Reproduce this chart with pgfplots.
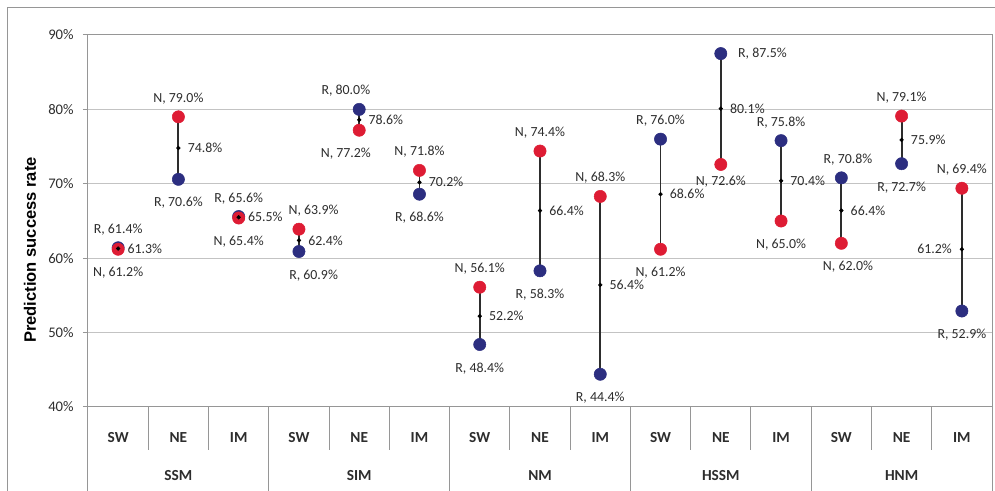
\documentclass[border=0pt]{standalone}
\usepackage{fontspec}
\setmainfont{Carlito}
\newfontfamily\arialf{Liberation Sans}
\usepackage{pgfplots}
\pgfplotsset{compat=1.18}

\definecolor{nred}{RGB}{222,28,52}
\definecolor{rblue}{RGB}{44,46,128}
\definecolor{gridc}{RGB}{195,195,195}
\definecolor{framec}{RGB}{150,150,150}
\definecolor{linec}{RGB}{45,45,45}
\definecolor{txt}{RGB}{45,45,45}

\newcommand{\lbl}{\fontsize{10.4}{12}\selectfont}
\newcommand{\catfont}{\fontsize{11.5}{13}\selectfont\bfseries}

\pgfplotsset{
  dot/.style n args={2}{only marks, mark=*, mark size=4.6pt, color=#1, point meta=y,
    nodes near coords={#2, \pgfmathprintnumber[fixed,fixed zerofill,precision=1]{\pgfplotspointmeta}\%},
    every node near coord/.append style={text=txt, font=\lbl}},
  mean/.style={only marks, mark=*, mark size=1.4pt, color=black, point meta=y,
    nodes near coords={\pgfmathprintnumber[fixed,fixed zerofill,precision=1]{\pgfplotspointmeta}\%},
    every node near coord/.append style={text=txt, font=\lbl}},
  above lbl/.style={every node near coord/.append style={anchor=south, yshift=6pt, xshift=#1}},
  above lbl/.default=0pt,
  below lbl/.style={every node near coord/.append style={anchor=north, yshift=-10pt, xshift=#1}},
  below lbl/.default=0pt,
  close below lbl/.style={every node near coord/.append style={anchor=north, yshift=-5pt}},
  right lbl/.style={every node near coord/.append style={anchor=west, xshift=#1}},
  left lbl/.style={every node near coord/.append style={anchor=east, xshift=#1}},
}

\begin{document}
\begin{tikzpicture}
\begin{axis}[
  name=ax,
  scale only axis, width=678pt, height=279pt,
  xmin=-0.5, xmax=14.5, ymin=40, ymax=90,
  xtick={0,...,14},
  xticklabels={SW,NE,IM,SW,NE,IM,SW,NE,IM,SW,NE,IM,SW,NE,IM},
  x tick style={draw=none},
  xticklabel style={font=\catfont, text=txt, yshift=-12pt},
  ytick={40,50,...,90},
  yticklabel={\pgfmathprintnumber{\tick}\%},
  yticklabel style={font=\fontsize{11}{13}\selectfont, text=txt, xshift=-3.5pt},
  y tick style={draw=framec, line width=0.75pt},
  tick align=outside, major tick length=3.75pt, tick pos=left,
  ymajorgrids, grid style={draw=gridc, line width=0.75pt},
  axis line style={draw=framec, line width=0.75pt},
  clip=false,
  unbounded coords=jump,
  /pgf/number format/assume math mode=true,
  ylabel={Prediction success rate},
  every axis y label/.style={at={(axis description cs:0,0.422)}, xshift=-43.5pt,
    rotate=90, anchor=center, font=\arialf\bfseries\fontsize{12.4}{14}\selectfont},
]
% category table below the axis
\pgfplotsinvokeforeach{0.5,1.5,3.5,4.5,6.5,7.5,9.5,10.5,12.5,13.5}{
  \draw[framec, line width=0.75pt] (axis cs:#1,40) -- (axis cs:#1,34.2);
}
\pgfplotsinvokeforeach{-0.5,2.5,5.5,8.5,11.5,14.5}{
  \draw[framec, line width=0.75pt] (axis cs:#1,40) -- (axis cs:#1,27);
}
\node[font=\catfont, text=txt] at (axis cs:1,30.8) {SSM};
\node[font=\catfont, text=txt] at (axis cs:4,30.8) {SIM};
\node[font=\catfont, text=txt] at (axis cs:7,30.8) {NM};
\node[font=\catfont, text=txt] at (axis cs:10,30.8) {HSSM};
\node[font=\catfont, text=txt] at (axis cs:13,30.8) {HNM};

% range lines between N and R
\addplot[draw=linec, line width=1.4pt, forget plot] coordinates {
  (0,61.2) (0,61.4) (0,nan)   (1,79.0) (1,70.6) (1,nan)   (2,65.4) (2,65.6) (2,nan)
  (3,63.9) (3,60.9) (3,nan)   (4,77.2) (4,80.0) (4,nan)   (5,71.8) (5,68.6) (5,nan)
  (6,56.1) (6,48.4) (6,nan)   (7,74.4) (7,58.3) (7,nan)   (8,68.3) (8,44.4) (8,nan)
  (9,61.2) (9,76.0) (9,nan)   (10,72.6) (10,87.5) (10,nan) (11,65.0) (11,75.8) (11,nan)
  (12,62.0) (12,70.8) (12,nan) (13,79.1) (13,72.7) (13,nan) (14,69.4) (14,52.9)
};

% R points
\addplot[dot={rblue}{R}, above lbl] coordinates {(0,61.4) (2,65.6) (9,76.0) (11,75.8)};
\addplot[dot={rblue}{R}, above lbl=-10pt] coordinates {(4,80.0)};
\addplot[dot={rblue}{R}, above lbl=5pt] coordinates {(12,70.8)};
\addplot[dot={rblue}{R}, below lbl] coordinates {(1,70.6) (5,68.6) (6,48.4) (7,58.3) (8,44.4) (13,72.7) (14,52.9)};
\addplot[dot={rblue}{R}, below lbl=11pt] coordinates {(3,60.9)};
\addplot[dot={rblue}{R}, right lbl=9.5pt] coordinates {(10,87.5)};

% N points
\addplot[dot={nred}{N}, above lbl] coordinates {(1,79.0) (5,71.8) (6,56.1) (7,74.4) (8,68.3) (13,79.1) (14,69.4)};
\addplot[dot={nred}{N}, above lbl=11pt] coordinates {(3,63.9)};
\addplot[dot={nred}{N}, below lbl] coordinates {(0,61.2) (2,65.4) (9,61.2) (11,65.0)};
\addplot[dot={nred}{N}, close below lbl] coordinates {(10,72.6)};
\addplot[dot={nred}{N}, below lbl=-10pt] coordinates {(4,77.2)};
\addplot[dot={nred}{N}, below lbl=5pt] coordinates {(12,62.0)};

% means
\addplot[mean, right lbl=3.5pt] coordinates {
  (0,61.3) (1,74.8) (2,65.5) (3,62.4) (4,78.6) (5,70.2) (6,52.2)
  (7,66.4) (8,56.4) (9,68.6) (10,80.1) (11,70.4) (12,66.4) (13,75.9)};
\addplot[mean, left lbl=-4pt] coordinates {(14,61.2)};
\end{axis}
\pgfresetboundingbox
\path[use as bounding box] ([shift={(-66pt,-63pt)}]ax.south west) rectangle ([shift={(2.25pt,26.25pt)}]ax.north east);
\draw[framec, line width=0.75pt] ([shift={(-60pt,-70pt)}]ax.south west) -- ([shift={(-60pt,20.25pt)}]ax.north west) -- ([shift={(10pt,20.25pt)}]ax.north east);
\end{tikzpicture}
\end{document}
